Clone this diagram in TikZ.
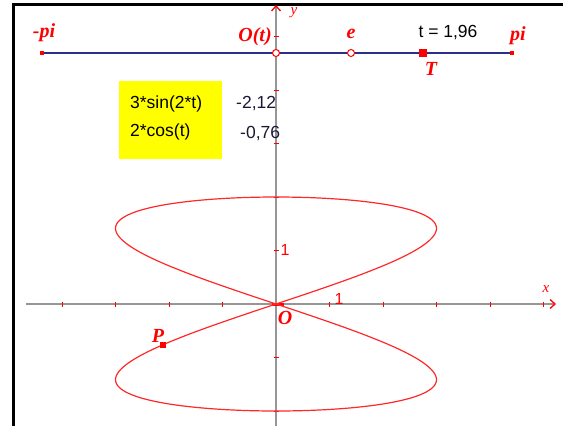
\documentclass[tikz,border=0pt]{standalone}
\usepackage{fontspec}
\setmainfont{Liberation Serif}
\newfontfamily\arialfont{Liberation Sans}
\usetikzlibrary{positioning, arrows.meta}
\definecolor{cSlider}{RGB}{45, 45, 140}
\definecolor{cAxis}{RGB}{150, 150, 150}
\definecolor{cCurve}{RGB}{255, 40, 40}
\definecolor{cBox}{RGB}{255, 255, 0}
\definecolor{cValue}{RGB}{25, 25, 50}

\begin{document}
\begin{tikzpicture}[
    x=1pt, y=-1pt,
    lbl/.style={text=red, font=\fontsize{20}{20}\selectfont\bfseries\itshape, inner sep=0pt},
    txt/.style={font=\arialfont\fontsize{17.5}{17.5}\selectfont, inner sep=0pt},
    axlbl/.style={text=red, font=\fontsize{15}{15}\selectfont\itshape, inner sep=0pt},
    numlbl/.style={text=red, font=\arialfont\fontsize{16}{16}\selectfont, inner sep=0pt},
    endpt/.style={fill=red, rectangle, minimum size=4pt, inner sep=0pt},
    openpt/.style={draw=red, fill=white, circle, line width=1pt, minimum size=7pt, inner sep=0pt},
    axis/.style={cAxis, line width=1.3pt, -{Straight Barb[color=red, length=5pt, width=9pt]}},
    tick/.style={red, line width=1pt}
]
    \useasboundingbox (0,0) rectangle (567,426);

    % --- Rahmen ---
    \draw[line width=3pt] (13,426) -- (13,4) -- (563,4);

    % --- Achsen ---
    \coordinate (ybot) at (276,426);
    \coordinate (ytop) at (276,5);
    \coordinate (xleft) at (26,304);
    \coordinate (xright) at (556,304);
    \draw[axis] (xleft) -- (xright);
    \draw[axis] (ybot) -- (ytop);
    \foreach \k in {-4,-3,-2,-1,1,2,3,4,5}
        \draw[tick] (276+53.5*\k, 301.5) -- ++(0,5);
    \foreach \k in {-2,-1,1,2,3,4,5}
        \draw[tick] (273.5, 304-53.5*\k) -- ++(5,0);
    \node[axlbl] (xlab) at (546,289) {x};
    \node[axlbl] (ylab) at (294,13) {y};
    \node[numlbl] (one_y) at (285,250) {1};
    \node[numlbl] (one_x) at (339,299) {1};
    \fill[red] (271.5,302.5) rectangle (283.5,305.5);
    \node[lbl] (origin) at (285,318) {O};

    % --- Schieberegler ---
    \node[endpt] (mpi) at (42,53) {};
    \node[endpt] (ppi) at (512,53) {};
    \draw[cSlider, line width=1.3pt] (mpi) -- (ppi);
    \node[openpt] (ot) at (276,53) {};
    \node[openpt] (e) at (351,53) {};
    \node[fill=red, rectangle, minimum size=8pt, inner sep=0pt] (T) at (423,53) {};
    \node[lbl] (mpi_lab) at (44,33) {-pi};
    \node[lbl] (ot_lab) at (255,37) {O(t)};
    \node[lbl] (e_lab) at (351,34) {e};
    \node[lbl] (ppi_lab) at (518,36) {pi};
    \node[lbl] (T_lab) at (431,69) {T};
    \node[txt] (tval) at (448,33) {t = 1,96};

    % --- Wertetabelle ---
    \fill[cBox] (119,81) rectangle (222,159);
    \node[txt, anchor=west] (fx) at (130,104) {3*sin(2*t)};
    \node[txt, anchor=west] (fy) at (130,132) {2*cos(t)};
    \node[txt, anchor=west, text=cValue] (vx) at (236,104) {-2,12};
    \node[txt, anchor=west, text=cValue] (vy) at (240,134) {-0,76};

    % --- Kurve ---
    \begin{scope}[shift={(276,304)}, x=53.5pt, y=53.5pt]
        \draw[cCurve, line width=1.2pt, domain=-180:180, samples=240, smooth, variable=\t]
            plot ({3*sin(2*\t)}, {2*cos(\t)});
        \node[endpt, minimum size=6pt] (P) at ({3*sin(224.6)}, {2*cos(112.3)}) {};
    \end{scope}
    \node[lbl] (P_lab) at (158,336) {P};

\end{tikzpicture}
\end{document}
